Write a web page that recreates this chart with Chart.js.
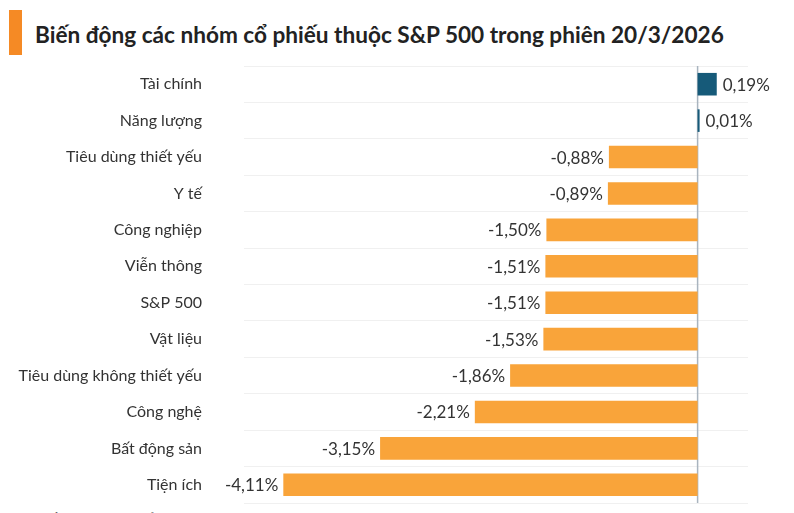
<!DOCTYPE html>
<html>
<head>
<meta charset="utf-8">
<script src="https://cdn.jsdelivr.net/npm/chart.js@4/dist/chart.umd.min.js"></script>
<style>
  html, body { margin: 0; padding: 0; background: #fff; }
  body { width: 794px; height: 513px; position: relative; overflow: hidden; font-family: Lato, sans-serif; }
  .mark { position: absolute; left: 9px; top: 10px; width: 13px; height: 45px; background: #f58a25; }
  .title { position: absolute; left: 35px; top: 21px; font-size: 22.6px; font-weight: bold; color: #222; white-space: nowrap; }
  .source { position: absolute; left: 30px; top: 509px; font-size: 14px; color: #555; white-space: nowrap; }
  #barChart { position: absolute; left: 0; top: 0; }
</style>
</head>
<body>
<div class="mark"></div>
<div class="title">Biến động các nhóm cổ phiếu thuộc S&amp;P 500 trong phiên 20/3/2026</div>
<div class="source">Nguồn: Minh Sơn tổng hợp từ CNBC</div>
<canvas id="barChart" width="794" height="513"></canvas>
<script>
const sectors = ['Tài chính', 'Năng lượng', 'Tiêu dùng thiết yếu', 'Y tế', 'Công nghiệp', 'Viễn thông',
  'S&P 500', 'Vật liệu', 'Tiêu dùng không thiết yếu', 'Công nghệ', 'Bất động sản', 'Tiện ích'];
const changes = [0.19, 0.01, -0.88, -0.89, -1.50, -1.51, -1.51, -1.53, -1.86, -2.21, -3.15, -4.11];

const upColor = '#165a79';
const downColor = '#f9a43a';

// zero line + value labels next to each bar
const valueLabels = {
  id: 'valueLabels',
  beforeDatasetsDraw(chart) {
    const ctx = chart.ctx;
    const x0 = chart.scales.x.getPixelForValue(0);
    const a = chart.chartArea;
    ctx.save();
    ctx.strokeStyle = '#a9b4bf';
    ctx.lineWidth = 1.5;
    ctx.beginPath();
    ctx.moveTo(x0, a.top);
    ctx.lineTo(x0, a.bottom);
    ctx.stroke();
    ctx.restore();
  },
  afterDatasetsDraw(chart) {
    const ctx = chart.ctx;
    const meta = chart.getDatasetMeta(0);
    ctx.save();
    ctx.font = '17px Lato';
    ctx.fillStyle = '#333';
    ctx.textBaseline = 'middle';
    meta.data.forEach((bar, i) => {
      const v = changes[i];
      const txt = v.toFixed(2).replace('.', ',') + '%';
      if (v >= 0) {
        ctx.textAlign = 'left';
        ctx.fillText(txt, bar.x + 6, bar.y + 1);
      } else {
        ctx.textAlign = 'right';
        ctx.fillText(txt, bar.x - 5, bar.y + 1);
      }
    });
    ctx.restore();
  }
};

const barChart = new Chart(document.getElementById('barChart').getContext('2d'), {
  type: 'bar',
  data: {
    labels: sectors,
    datasets: [{
      data: changes,
      backgroundColor: changes.map(v => v >= 0 ? upColor : downColor),
      barPercentage: 0.62,
      categoryPercentage: 1,
      minBarLength: 2
    }]
  },
  options: {
    indexAxis: 'y',
    responsive: false,
    animation: false,
    layout: { padding: { top: 66, right: 46, bottom: 10, left: 0 } },
    plugins: {
      legend: { display: false },
      tooltip: { enabled: false }
    },
    scales: {
      x: {
        display: false,
        min: -4.5,
        max: 0.5
      },
      y: {
        ticks: { color: '#333', font: { family: 'Lato', size: 16 }, padding: 42 },
        border: { display: false },
        grid: { color: '#f0f0f0', lineWidth: 1, drawTicks: false },
        // tick padding would otherwise also pad top/bottom of the axis
        afterFit: s => { s.width = 244; s.paddingTop = 0; s.paddingBottom = 0; }
      }
    }
  },
  plugins: [valueLabels]
});
</script>
</body>
</html>
